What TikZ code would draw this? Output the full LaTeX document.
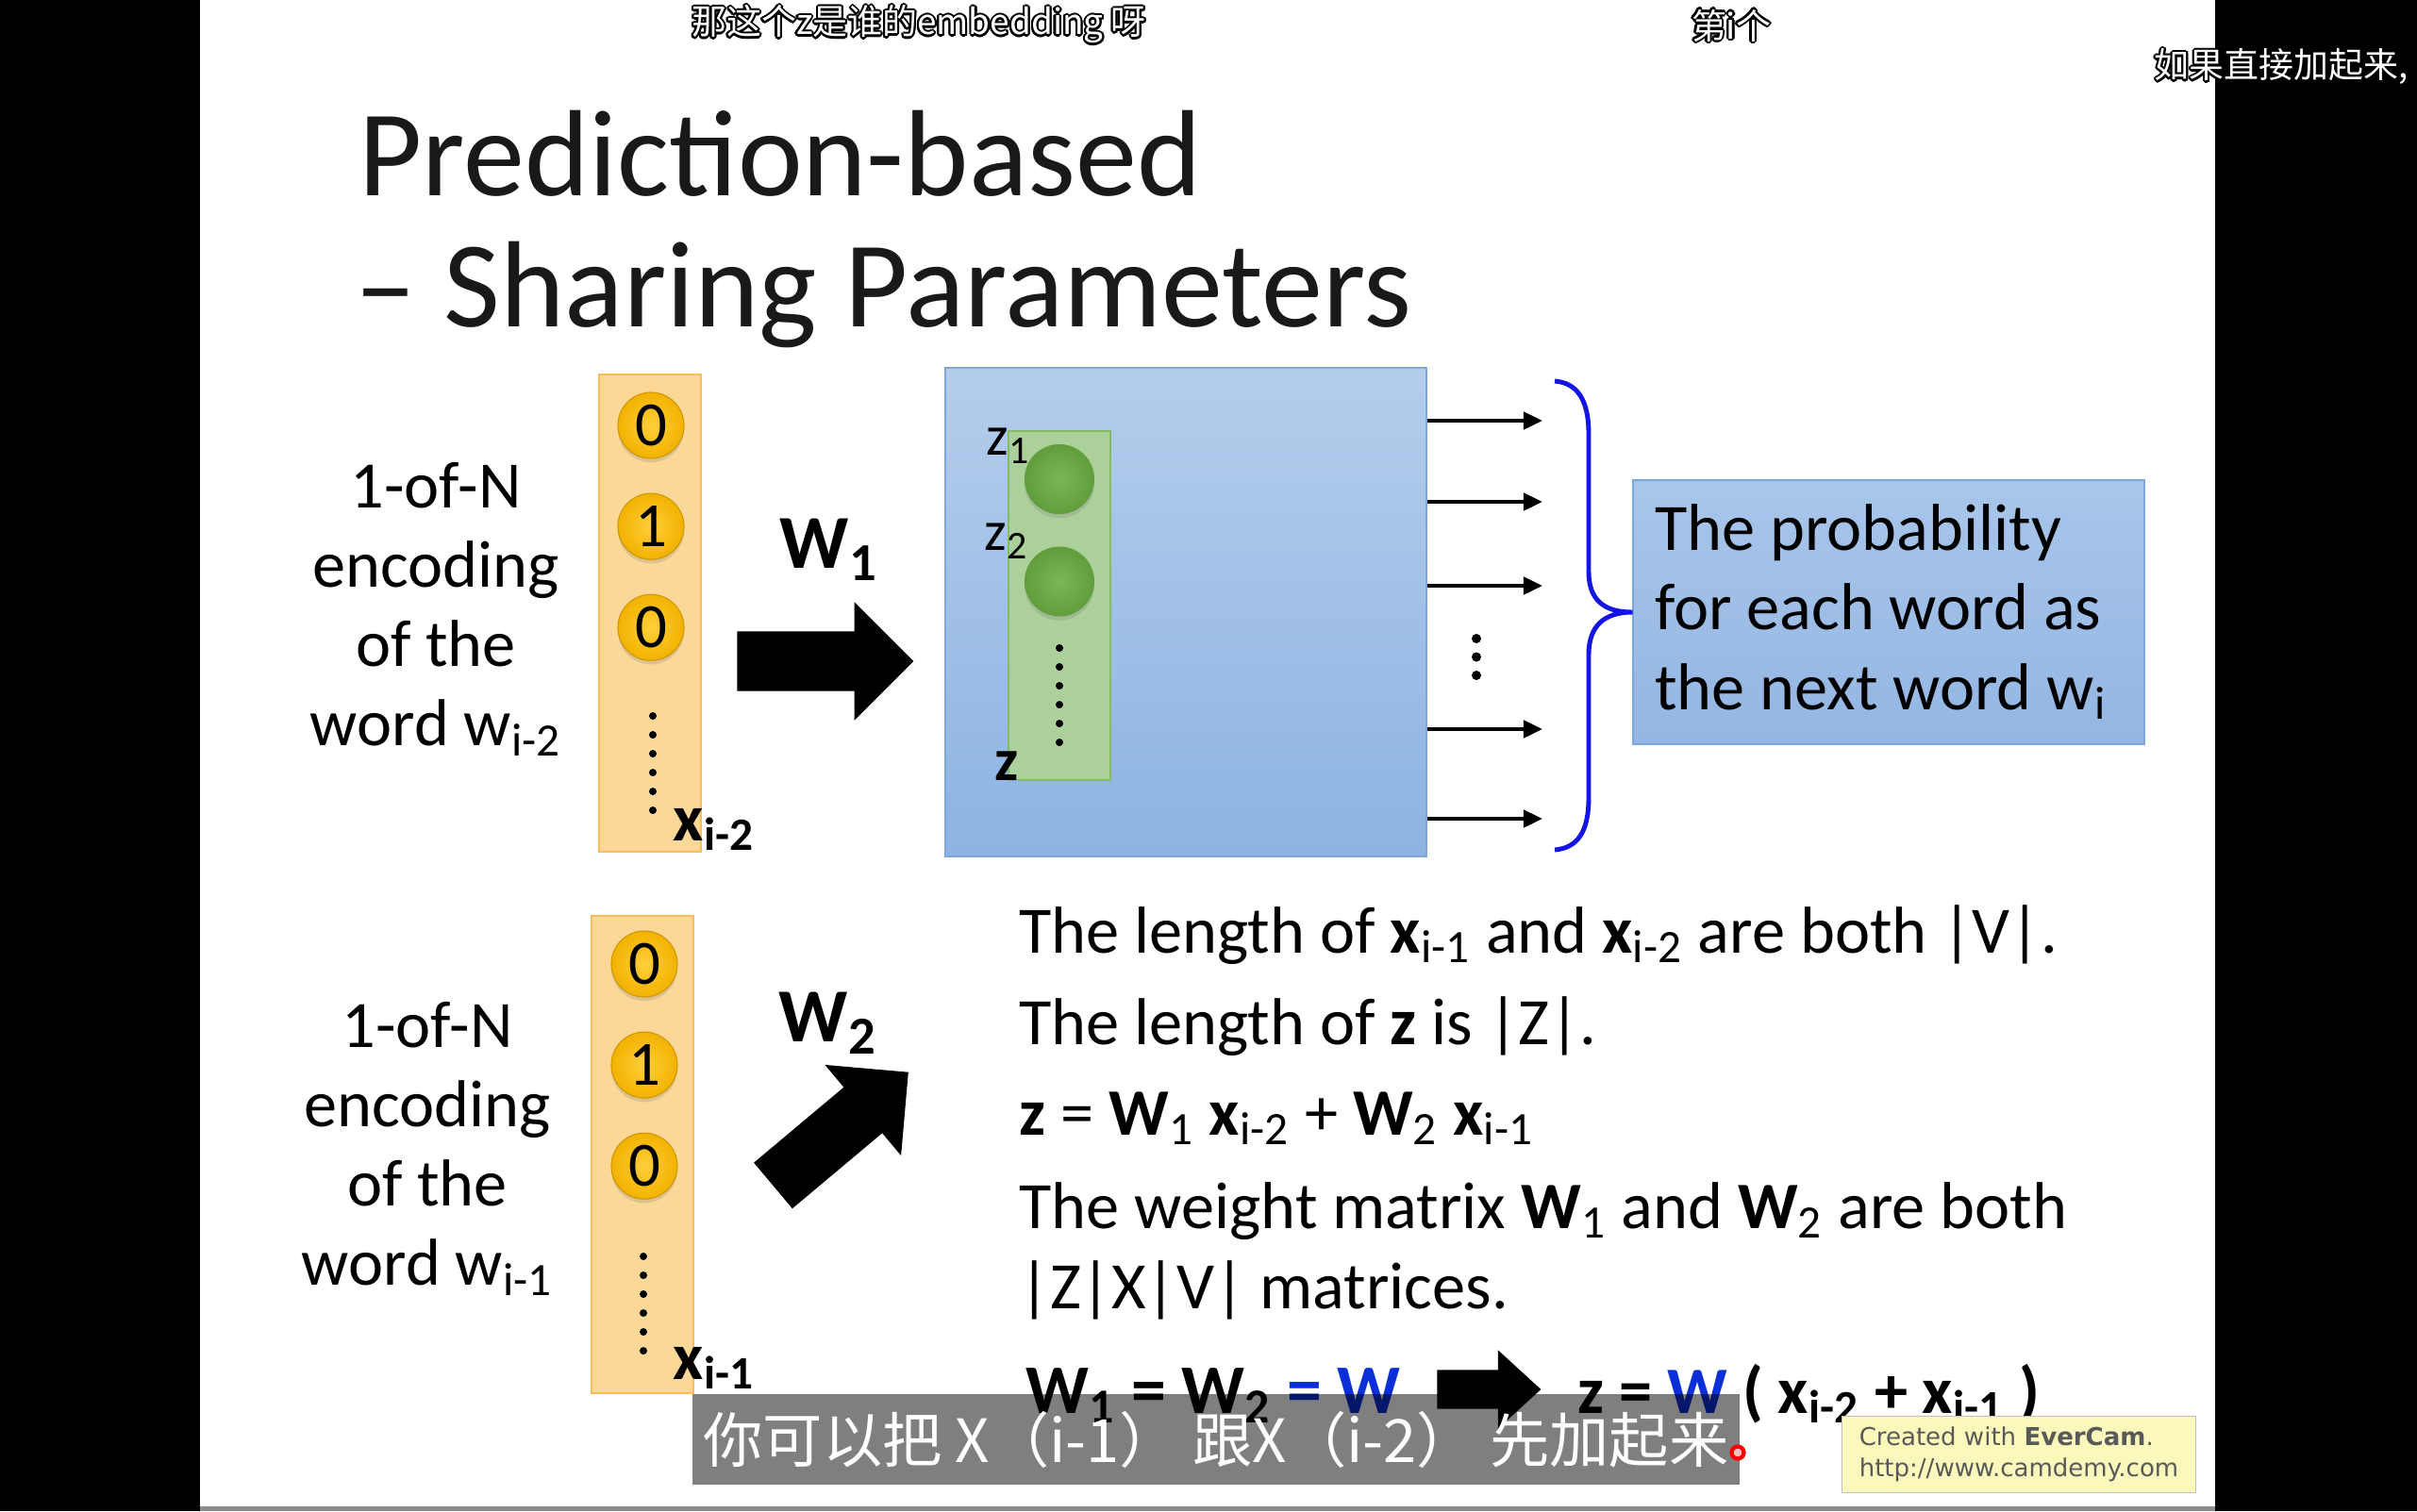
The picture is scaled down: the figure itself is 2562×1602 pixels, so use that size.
\documentclass[tikz,border=0pt]{standalone}
\usepackage{fontspec}
\setmainfont{Carlito}
\newfontfamily\cjk{Noto Sans CJK SC}
\newfontfamily\stickyfont{DejaVu Sans}
\usepackage{contour}
\contourlength{0.6pt}
\usetikzlibrary{arrows.meta,positioning,shapes.arrows,shadows}

\definecolor{OrangeFill}{HTML}{FBD898}
\definecolor{OrangeLine}{HTML}{F4BF59}
\definecolor{GoldIn}{HTML}{FFCF3A}
\definecolor{GoldOut}{HTML}{F2B200}
\definecolor{BlueTop}{HTML}{B4CDEB}
\definecolor{BlueBot}{HTML}{8DB3E3}
\definecolor{BlueLine}{HTML}{7FA7DA}
\definecolor{GreenFill}{HTML}{ABD09A}
\definecolor{GreenLine}{HTML}{86BB66}
\definecolor{LeafIn}{HTML}{7BB655}
\definecolor{LeafOut}{HTML}{5F9E3B}
\definecolor{BoxTop}{HTML}{A9C6EA}
\definecolor{BoxBot}{HTML}{93B6E3}
\definecolor{BraceBlue}{HTML}{1414E6}
\definecolor{ShareBlue}{HTML}{0A2FD8}
\definecolor{StickyFill}{HTML}{FBF8BC}

\begin{document}
\begin{tikzpicture}[x=0.01cm, y=-0.01cm,
        OHV/.style={rectangle, draw=OrangeLine, fill=OrangeFill, line width=0.6pt, minimum width=1.08cm, minimum height=5.06cm, inner sep=0pt},  % one-hot vector
        Bit/.style={circle, draw=GoldOut!85!black, line width=0.3pt, inner color=GoldIn, outer color=GoldOut, minimum size=0.70cm, inner sep=0pt, font=\fontsize{19}{19}\selectfont, drop shadow={opacity=0.25, shadow xshift=0pt, shadow yshift=-1.2pt}},
        Hidden/.style={rectangle, draw=BlueLine, line width=0.5pt, top color=BlueTop, bottom color=BlueBot, minimum width=5.09cm, minimum height=5.18cm},
        Latent/.style={rectangle, draw=GreenLine, line width=0.6pt, fill=GreenFill, minimum width=1.08cm, minimum height=3.70cm},
        Neuron/.style={circle, inner color=LeafIn, outer color=LeafOut, minimum size=0.74cm, inner sep=0pt, drop shadow={opacity=0.25, shadow xshift=0pt, shadow yshift=-1.2pt}},
        Prob/.style={rectangle, draw=BlueLine, line width=0.5pt, top color=BoxTop, bottom color=BoxBot, minimum width=5.41cm, minimum height=2.80cm},
        Body/.style={inner sep=0pt, font=\fontsize{20}{23.9}\selectfont},
        Note/.style={Body, anchor=base west},
        Title/.style={inner sep=0pt, anchor=base west, text=black!90, font=\fontsize{37}{37}\selectfont},
        WLab/.style={inner sep=0pt, anchor=base west, font=\fontsize{23}{23}\selectfont\bfseries},
        ZLab/.style={inner sep=0pt, anchor=base west, font=\fontsize{17}{17}\selectfont},
        BigArrow/.style={single arrow, fill=black, inner xsep=0pt, inner ysep=0.31cm, text height=0pt, text depth=0pt, single arrow tip angle=90, minimum height=1.87cm, minimum width=1.24cm, single arrow head extend=0.31cm},
        Dots/.style={line width=0.08cm, line cap=round, dash pattern=on 0pt off 0.2cm},
        Out/.style={-{Triangle[length=5.7pt,width=5.2pt]}, line width=1.1pt},
        BraceLine/.style={draw=BraceBlue, line width=1.4pt},
        Sub/.style={inner sep=0pt, text=white, font=\cjk\fontsize{10.5}{10.5}\selectfont},
        Caption/.style={fill=black, fill opacity=0.5, text opacity=1, text=white, inner sep=0pt, minimum width=11.10cm, minimum height=0.95cm, font=\cjk\fontsize{18}{18}\selectfont},
        Sticky/.style={rectangle, draw=black!25, fill=StickyFill, minimum width=3.73cm, minimum height=0.76cm, align=left, inner xsep=0.18cm, text=black!65, font=\stickyfont\fontsize{7.4}{9.3}\selectfont},
    ]
        % slide frame
        \useasboundingbox (0,0) rectangle (2562,1602);
        \fill[black] (0,0) rectangle (212,1602);
        \fill[black] (2348,0) rectangle (2562,1602);
        \fill[black!45] (212,1597) rectangle (2348,1602);

        %Nodes
        \node[Title] (TitleA) at (380,207) {Prediction-based};
        \node[Title] (TitleB) at (376,346) {-- Sharing Parameters};

        % word i-2
        \node[OHV] (TopCol) at (689,650) {};
        \node[Bit] (TopZeroA) at (690,451) {0};
        \node[Bit] (TopOne) [below=0.36cm of TopZeroA] {1};
        \node[Bit] (TopZeroB) [below=0.36cm of TopOne] {0};
        \node[Note, font=\fontsize{20}{20}\selectfont\bfseries] (XTwo) at (713,891) {x\textsubscript{i-2}};
        \node[Body, align=center] (TopWord) at (462,646) {1-of-N\\encoding\\of the\\word w\textsubscript{i-2}};
        \node[BigArrow] (ArrowOne) at (859,701) {};
        \node[WLab] (WOne) at (826,602) {W\textsubscript{1}};

        % hidden layer
        \node[Hidden] (Hidden) at (1257,649) {};
        \node[Latent] (Latent) at (1123,642) {};
        \node[Neuron] (ZOne) at (1123,508) {};
        \node[Neuron] (ZTwo) [below=0.33cm of ZOne] {};
        \node[ZLab] (ZOneLab) at (1045,482) {z\textsubscript{1}};
        \node[ZLab] (ZTwoLab) at (1043,583) {z\textsubscript{2}};
        \node[ZLab, font=\fontsize{18}{18}\selectfont\bfseries] (ZVec) at (1054,827) {z};
        \node[Prob] (Prob) at (2002,649) {};
        \node[Body, align=left, anchor=west] (ProbText) [right=0.23cm of Prob.west] {The probability\\for each word as\\the next word w\textsubscript{i}};

        % word i-1
        \node[OHV] (LowCol) at (681,1224) {};
        \node[Bit] (LowZeroA) at (683,1022) {0};
        \node[Bit] (LowOne) [below=0.36cm of LowZeroA] {1};
        \node[Bit] (LowZeroB) [below=0.36cm of LowOne] {0};
        \node[Note, font=\fontsize{20}{20}\selectfont\bfseries] (XOne) at (713,1462) {x\textsubscript{i-1}};
        \node[Body, align=center] (LowWord) at (453,1218) {1-of-N\\encoding\\of the\\word w\textsubscript{i-1}};
        \node[BigArrow, rotate=40] (ArrowTwo) at (879,1207) {};
        \node[WLab] (WTwo) at (825,1104) {W\textsubscript{2}};

        % notes
        \node[Note] (LenX) at (1080,1010) {The length of \textbf{x}\textsubscript{i-1} and \textbf{x}\textsubscript{i-2} are both |V|.};
        \node[Note] (LenZ) at (1080,1107) {The length of \textbf{z} is |Z|.};
        \node[Note] (Sum) at (1080,1203) {\textbf{z} = \textbf{W}\textsubscript{1} \textbf{x}\textsubscript{i-2} + \textbf{W}\textsubscript{2} \textbf{x}\textsubscript{i-1}};
        \node[Note] (Weight) at (1080,1302) {The weight matrix \textbf{W}\textsubscript{1} and \textbf{W}\textsubscript{2} are both};
        \node[Note] (Size) at (1080,1387) {|Z|X|V| matrices.};
        \node[Note, font=\fontsize{21}{21}\selectfont\bfseries] (Tie) at (1087,1498) {W\textsubscript{1} = W\textsubscript{2} \textcolor{ShareBlue}{= W}};
        \node[BigArrow, inner ysep=0.2cm, minimum height=1.10cm, minimum width=0.82cm, single arrow head extend=0.21cm, single arrow tip angle=85] (ArrowThree) at (1567,1473) {};
        \node[Note, font=\fontsize{20}{20}\selectfont\bfseries] (Merge) at (1672,1498) {z = \textcolor{ShareBlue}{W} ( x\textsubscript{i-2} + x\textsubscript{i-1} )};

        % video overlay
        \node[Sub] (SubA) at (974,27) {\contour{black}{那这个z是谁的embedding 呀}};
        \node[Sub] (SubB) at (1835,28) {\contour{black}{第i个}};
        \node[Sub, anchor=west] (SubC) at (2283,72) {\contour{black}{如果直接加起来,}};
        \node[Caption] (Caption) at (1289,1526) {你可以把 X（i-1） 跟X（i-2） 先加起来};
        \node[circle, draw=red, fill=red!25, line width=1.2pt, minimum size=0.13cm, inner sep=0pt] (Pointer) at (1842,1540) {};
        \node[Sticky] (EverCam) at (2140,1542) {Created with \textbf{EverCam}.\\http://www.camdemy.com};

        %Lines
        \coordinate (OutA) at (1635,446);
        \coordinate (OutB) at (1635,532);
        \coordinate (OutC) at (1635,621);
        \coordinate (OutD) at (1635,773);
        \coordinate (OutE) at (1635,868);
        \draw[Out] (Hidden.east |- OutA) -- (OutA);
        \draw[Out] (Hidden.east |- OutB) -- (OutB);
        \draw[Out] (Hidden.east |- OutC) -- (OutC);
        \draw[Out] (Hidden.east |- OutD) -- (OutD);
        \draw[Out] (Hidden.east |- OutE) -- (OutE);
        \draw[Dots, line width=0.1cm, dash pattern=on 0pt off 0.195cm] (1565,677) -- (1565,718);
        \draw[Dots] (692,759) -- (692,861);
        \draw[Dots] (1123,687) -- (1123,789);
        \draw[Dots] (682,1332) -- (682,1436);
        \coordinate (BraceTop) at (1648,404);
        \coordinate (BraceBot) at (1648,901);
        \draw[BraceLine] (BraceTop) .. controls (1672,406) and (1684,424) .. (1684,460) -- (1684,606)
            .. controls (1684,636) and (1700,649) .. (Prob.west)
            .. controls (1700,649) and (1684,664) .. (1684,694) -- (1684,846)
            .. controls (1684,882) and (1672,899) .. (BraceBot);
    \end{tikzpicture}
\end{document}
